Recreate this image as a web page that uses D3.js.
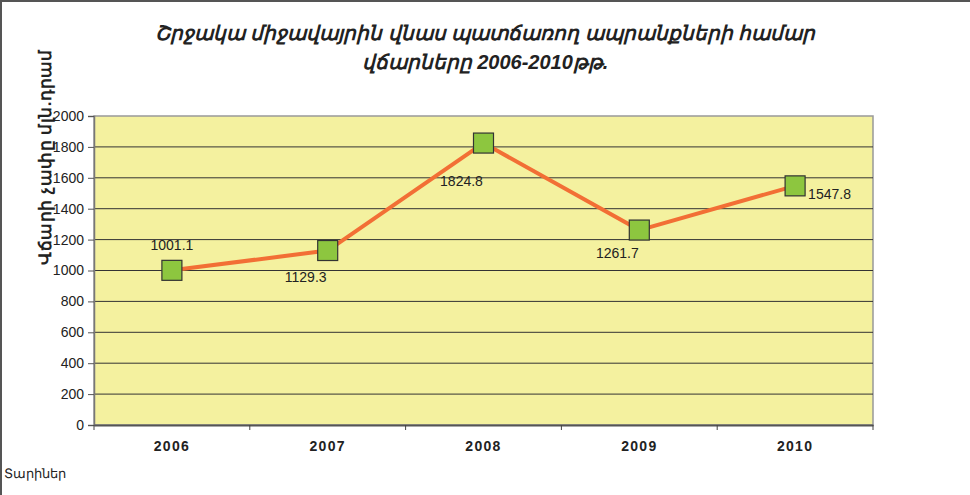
<!DOCTYPE html>
<html><head><meta charset="utf-8">
<script src="https://cdn.jsdelivr.net/npm/d3@7/dist/d3.min.js"></script>
<style>body{margin:0;background:#fff}svg{display:block}</style>
</head><body>
<svg id="c" width="970" height="495"></svg>
<script>
const years = ["2006","2007","2008","2009","2010"];
const values = [1001.1, 1129.3, 1824.8, 1261.7, 1547.8];
const yTicks = [0,200,400,600,800,1000,1200,1400,1600,1800,2000];
const titleLines = ["Շրջակա միջավայրին վնաս պատճառող ապրանքների համար","վճարները 2006-2010թթ."];
const yTitle = "Վճարի չափը մլն.դրամ";
const xTitle = "Տարիներ";
const labelPos = ["above","below","below","below","right"];

const svg = d3.select("#c");
const font = "'Liberation Sans', Arial, sans-serif";
const L=94, R=873, T=116, B=425;
const x = d3.scaleBand().domain(years).range([L,R]);
const y = d3.scaleLinear().domain([0,2000]).range([B,T]);

// frame
svg.append("line").attr("x1",1).attr("x2",970).attr("y1",1).attr("y2",1).attr("stroke","#555").attr("stroke-width",2);
svg.append("line").attr("x1",1).attr("x2",1).attr("y1",0).attr("y2",495).attr("stroke","#555").attr("stroke-width",2);

// plot bg
svg.append("rect").attr("x",L).attr("y",T).attr("width",R-L).attr("height",B-T).attr("fill","#F4F19F").attr("stroke","#999").attr("stroke-width",1.5);

// grid
svg.append("g").selectAll("line").data(yTicks.filter(d=>d>0&&d<2000)).join("line")
  .attr("x1",L).attr("x2",R).attr("y1",d=>y(d)).attr("y2",d=>y(d)).attr("stroke","#333").attr("stroke-width",1);

// y axis
const ya = svg.append("g").attr("transform",`translate(${L},0)`).call(d3.axisLeft(y).tickValues(yTicks).tickFormat(d3.format("d")).tickSize(6).tickPadding(4));
ya.select(".domain").attr("stroke","#777").attr("stroke-width",1.5);
ya.selectAll(".tick line").attr("stroke","#555");
ya.selectAll("text").attr("font-family",font).attr("font-size",14).attr("fill","#222");

// x axis
const xa = svg.append("g").attr("transform",`translate(0,${B})`).call(d3.axisBottom(x).tickSize(0).tickPadding(16));
xa.select(".domain").attr("stroke","#555").attr("stroke-width",2);
xa.selectAll("text").attr("font-family",font).attr("font-size",14).attr("font-weight","bold").attr("letter-spacing","1.3px").attr("fill","#222");
svg.append("g").selectAll("line").data(years.map(d=>x(d)).concat([R])).join("line")
  .attr("x1",d=>d).attr("x2",d=>d).attr("y1",B).attr("y2",B+5).attr("stroke","#444");

// line
const cx = d=>x(d)+x.bandwidth()/2;
svg.append("path").datum(values).attr("fill","none").attr("stroke","#F26F35").attr("stroke-width",4)
  .attr("d",d3.line().x((d,i)=>cx(years[i])).y(d=>y(d)));

// markers
svg.append("g").selectAll("rect").data(values).join("rect")
  .attr("x",(d,i)=>cx(years[i])-10).attr("y",d=>y(d)-10).attr("width",20).attr("height",20)
  .attr("fill","#8DC63F").attr("stroke","#333").attr("stroke-width",1.2);

// labels
const off = {above:[0,-24,"middle"],below:[-22,26,"middle"],right:[13,9,"start"]};
const extra = [0,2,13,-2,0];
svg.append("g").selectAll("text").data(values).join("text")
  .attr("x",(d,i)=>cx(years[i])+off[labelPos[i]][0])
  .attr("y",(d,i)=>y(d)+off[labelPos[i]][1]+extra[i])
  .attr("text-anchor",(d,i)=>off[labelPos[i]][2])
  .attr("dominant-baseline","middle")
  .attr("font-family",font).attr("font-size",14).attr("fill","#222")
  .text(d=>d.toFixed(1));

// title
svg.append("g").selectAll("text").data(titleLines).join("text")
  .attr("x",485).attr("y",(d,i)=>40+i*29).attr("text-anchor","middle")
  .attr("font-family",font).attr("font-size",20).attr("font-weight","bold").attr("font-style","italic").attr("fill","#222")
  .text(d=>d);

// y title
svg.append("text").attr("transform","translate(51,157) rotate(-90)").attr("text-anchor","middle")
  .attr("font-family",font).attr("font-size",17).attr("font-weight","bold").attr("fill","#222")
  .attr("textLength",215).attr("lengthAdjust","spacing").text(yTitle);

// x title
svg.append("text").attr("x",4).attr("y",478).attr("font-family",font).attr("font-size",13).attr("fill","#222").text(xTitle);
</script>
</body></html>
